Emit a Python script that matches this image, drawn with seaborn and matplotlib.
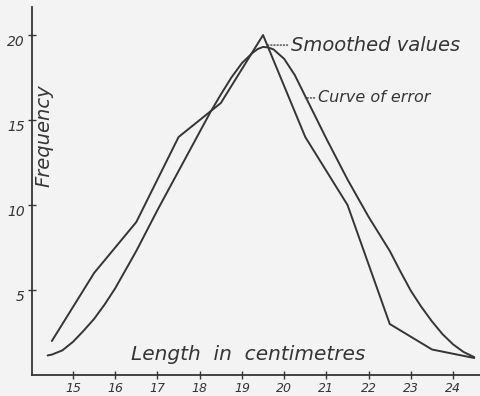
import numpy as np
import pandas as pd
import matplotlib
matplotlib.use("Agg")
import matplotlib.pyplot as plt
import seaborn as sns

# Lengths (cm) at class mid-points and the smoothed frequencies
smoothed_length = [14.5, 15.5, 16.5, 17.5, 18.5, 19.5, 20.5, 21.5, 22.5, 23.5, 24.5]
smoothed_freq = [2, 6, 9, 14, 16, 20, 14, 10, 3, 1.5, 1]

# Curve of error, traced point by point
error_length = [14.4, 14.5, 14.75, 15.0, 15.25, 15.5, 15.75, 16.0, 16.25, 16.5,
                16.75, 17.0, 17.25, 17.5, 17.75, 18.0, 18.25, 18.5, 18.75, 19.0,
                19.25, 19.375, 19.5, 19.625, 19.75, 20.0, 20.25, 20.5, 20.75,
                21.0, 21.25, 21.5, 21.75, 22.0, 22.25, 22.5, 22.75, 23.0, 23.25,
                23.5, 23.75, 24.0, 24.25, 24.5]
error_freq = [1.15, 1.2, 1.45, 1.95, 2.6, 3.3, 4.15, 5.1, 6.2, 7.3,
              8.5, 9.7, 10.85, 12.0, 13.15, 14.3, 15.45, 16.5, 17.5, 18.35,
              18.95, 19.18, 19.3, 19.27, 19.15, 18.6, 17.65, 16.4, 15.15,
              13.9, 12.7, 11.5, 10.4, 9.3, 8.3, 7.3, 6.1, 4.95, 4.0,
              3.15, 2.4, 1.8, 1.35, 1.05]

x_ticks = [15, 16, 17, 18, 19, 20, 21, 22, 23, 24]
y_ticks = [5, 10, 15, 20]

ink = "#353535"
paper = "#f3f3f3"

sns.set_style("ticks")
plt.rcParams["font.family"] = ["DejaVu Sans"]

fig = plt.figure(figsize=(4.81, 3.96), dpi=100, facecolor=paper)
ax = fig.add_axes([32 / 481, 21 / 396, 1 - 32 / 481, 368 / 396])
ax.set_facecolor(paper)

smoothed = pd.DataFrame({"length": smoothed_length, "freq": smoothed_freq})
error = pd.DataFrame({"length": error_length, "freq": error_freq})

sns.lineplot(data=smoothed, x="length", y="freq", ax=ax, color=ink, lw=1.4,
             sort=False)
sns.lineplot(data=error, x="length", y="freq", ax=ax, color=ink, lw=1.4,
             sort=False)

ax.set_xlim(14.03, 24.66)
ax.set_ylim(0, 21.65)

for side in ("top", "right"):
    ax.spines[side].set_visible(False)
for side in ("left", "bottom"):
    ax.spines[side].set_color(ink)
    ax.spines[side].set_linewidth(1.3)

ax.set_xticks(x_ticks)
ax.set_yticks(y_ticks)
ax.set_xticklabels([str(t) for t in x_ticks], fontsize=9, style="italic", color=ink)
ax.set_yticklabels([str(t) for t in y_ticks], fontsize=10, style="italic", color=ink,
                   va="top")
ax.tick_params(axis="both", direction="inout", length=6, width=1, color=ink)
ax.tick_params(axis="x", pad=2)
ax.tick_params(axis="y", pad=2)
ax.set_xlabel("")
ax.set_ylabel("")

# Axis titles lettered inside the frame
ax.text(14.31, 14.1, "Frequency", rotation=90, ha="center", va="center",
        fontsize=14, style="italic", color=ink)
ax.text(19.14, 1.2, "Length  in  centimetres", ha="center", va="center",
        fontsize=14.5, style="italic", color=ink)

# Labels with dotted leaders to each curve
leader = dict(arrowstyle="-", linestyle=(0, (1, 1.5)), color=ink, lw=0.9,
              shrinkA=0, shrinkB=0)
ax.annotate("Smoothed values", xy=(19.6, 19.41), xytext=(20.16, 19.41),
            ha="left", va="center", fontsize=14, style="italic", color=ink,
            arrowprops=leader)
ax.annotate("Curve of error", xy=(20.5, 16.3), xytext=(20.8, 16.3),
            ha="left", va="center", fontsize=11.5, style="italic", color=ink,
            arrowprops=leader)

fig.savefig("out.png", dpi=100, facecolor=paper)
